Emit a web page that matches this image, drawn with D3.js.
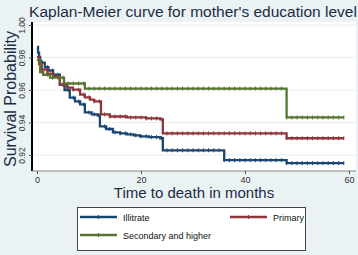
<!DOCTYPE html>
<html><head><meta charset="utf-8">
<script src="https://cdn.jsdelivr.net/npm/d3@7"></script>
<style>html,body{margin:0;padding:0;background:#eaf2f3;}svg{display:block;}</style>
</head><body>
<script>
const titleText = "Kaplan-Meier curve for mother's education level";
const xTitle = "Time to death in months";
const yTitle = "Survival Probability";
const xTicks = [0, 20, 40, 60];
const yTicks = [0.92, 0.94, 0.96, 0.98, 1.00];
const seriesNames = ["Illitrate", "Primary", "Secondary and higher"];
const seriesColors = ["#1a476f", "#90353b", "#55752f"];
// [month, survival] step points
const illitrate = [[0,0.9866],[0.2,0.983],[0.4,0.9804],[0.6,0.978],[0.8,0.9768],[1.5,0.974],[2.2,0.972],[3.1,0.9694],[4.4,0.9633],[5.3,0.960],[6.3,0.9553],[7.3,0.953],[8.3,0.9511],[9.2,0.9462],[10.5,0.945],[11.7,0.9443],[12.1,0.9376],[13.3,0.936],[14.6,0.9339],[16,0.9333],[17.3,0.9327],[18.6,0.9321],[19.8,0.9315],[21.5,0.931],[23.7,0.9303],[24.2,0.9229],[36,0.9168],[48,0.915],[59,0.915]];
const primary = [[0,0.9804],[0.4,0.976],[0.9,0.9725],[2,0.970],[3.1,0.9682],[4.4,0.9633],[5.8,0.9615],[6.9,0.9602],[8.3,0.9572],[9.2,0.9555],[10.2,0.9541],[11,0.953],[12.3,0.945],[14,0.9437],[17.3,0.9431],[21,0.9425],[23.7,0.9419],[24.2,0.9333],[48,0.9303],[59,0.9303]];
const secondary = [[0,0.9786],[0.6,0.971],[1.2,0.9694],[2.5,0.9676],[5.2,0.964],[9.2,0.9609],[48,0.9431],[59,0.9431]];
const censorMonths = [1,2,3,4,5,6,7,8,9,10,11,12,13,14,15,16,17,18,19,20,21,22,23,24,25,26,27,28,29,30,31,32,33,34,35,36,37,38,39,40,41,42,43,44,45,46,47,48,49,50,51,52,53,54,55,56,57,58,59];

const W = 358, H = 255;
const FONT = "Liberation Sans, Arial, sans-serif";
const svg = d3.select("body").append("svg").attr("width", W).attr("height", H);
svg.append("rect").attr("width", W).attr("height", H).attr("fill", "#eaf2f3");

const x = d3.scaleLinear().domain([0, 60]).range([37, 349]);
const y = d3.scaleLinear().domain([0.92, 1.0]).range([155, 25]);
const plotL = 32, plotR = 356, plotT = 22, plotB = 171;

svg.append("rect").attr("x", plotL).attr("y", plotT).attr("width", plotR - plotL).attr("height", plotB - plotT).attr("fill", "#ffffff");

svg.append("g").selectAll("line").data(yTicks).join("line")
  .attr("x1", plotL).attr("x2", plotR)
  .attr("y1", d => y(d)).attr("y2", d => y(d))
  .attr("stroke", "#e6eef1").attr("stroke-width", 1);

const yAxis = d3.axisLeft(y).tickValues(yTicks).tickFormat(d3.format(".2f")).tickSize(3).tickPadding(3);
const gy = svg.append("g").attr("transform", `translate(${plotL},0)`).call(yAxis);
gy.select(".domain").attr("d", `M0,${plotT}V${plotB}`).attr("stroke", "#000").attr("stroke-width", 2);
gy.selectAll(".tick line").attr("stroke", "#555");
gy.selectAll(".tick text")
  .attr("font-family", FONT).attr("font-size", 8.5).attr("fill", "#333")
  .attr("text-anchor", "middle").attr("x", 0).attr("y", 0).attr("dy", 0)
  .attr("transform", "translate(-7,0) rotate(-90)");

const xAxis = d3.axisBottom(x).tickValues(xTicks).tickFormat(d3.format("d")).tickSize(3).tickPadding(3);
const gx = svg.append("g").attr("transform", `translate(0,${plotB})`).call(xAxis);
gx.select(".domain").attr("d", `M${plotL},0H${plotR}`).attr("stroke", "#888").attr("stroke-width", 1.2);
gx.selectAll(".tick line").attr("stroke", "#555");
gx.selectAll(".tick text").attr("font-family", FONT).attr("font-size", 9).attr("fill", "#333");

const allSeries = [illitrate, primary, secondary];
const line = d3.line().x(d => x(d[0])).y(d => y(d[1])).curve(d3.curveStepAfter);
const bis = d3.bisector(d => d[0]).right;
allSeries.forEach((s, i) => {
  svg.append("path").datum(s).attr("d", line).attr("fill", "none")
    .attr("stroke", seriesColors[i]).attr("stroke-width", 2.3);
  const last = s[s.length - 1][0];
  const marks = censorMonths.filter(t => t <= last).map(t => [t, s[bis(s, t) - 1][1]]);
  svg.append("g").selectAll("line").data(marks).join("line")
    .attr("x1", d => x(d[0])).attr("x2", d => x(d[0]))
    .attr("y1", d => y(d[1]) - 2).attr("y2", d => y(d[1]) + 2)
    .attr("stroke", seriesColors[i]).attr("stroke-width", 1);
});

svg.append("text").attr("x", 193).attr("y", 17).attr("text-anchor", "middle")
  .attr("font-family", FONT).attr("font-size", 15.5).attr("fill", "#1e2b45")
  .text(titleText);
svg.append("text").attr("x", 194).attr("y", 198).attr("text-anchor", "middle")
  .attr("font-family", FONT).attr("font-size", 15).attr("fill", "#1e2b45")
  .text(xTitle);
svg.append("text").attr("transform", "translate(16,99) rotate(-90)").attr("text-anchor", "middle")
  .attr("font-family", FONT).attr("font-size", 16).attr("fill", "#1e2b45")
  .text(yTitle);

const lg = svg.append("g");
lg.append("rect").attr("x", 77.5).attr("y", 207.5).attr("width", 228).attr("height", 43)
  .attr("fill", "#fff").attr("stroke", "#444").attr("stroke-width", 1);
const legPos = [[80, 217], [230, 217], [80, 235]];
seriesNames.forEach((n, i) => {
  const [lx, ly] = legPos[i];
  lg.append("line").attr("x1", lx).attr("x2", lx + 37).attr("y1", ly).attr("y2", ly)
    .attr("stroke", seriesColors[i]).attr("stroke-width", 2.3);
  lg.append("line").attr("x1", lx + 18.5).attr("x2", lx + 18.5).attr("y1", ly - 2).attr("y2", ly + 2)
    .attr("stroke", seriesColors[i]).attr("stroke-width", 1);
  lg.append("text").attr("x", lx + 43).attr("y", ly + 3.5)
    .attr("font-family", FONT).attr("font-size", 9).attr("fill", "#111")
    .text(n);
});
</script>
</body></html>
